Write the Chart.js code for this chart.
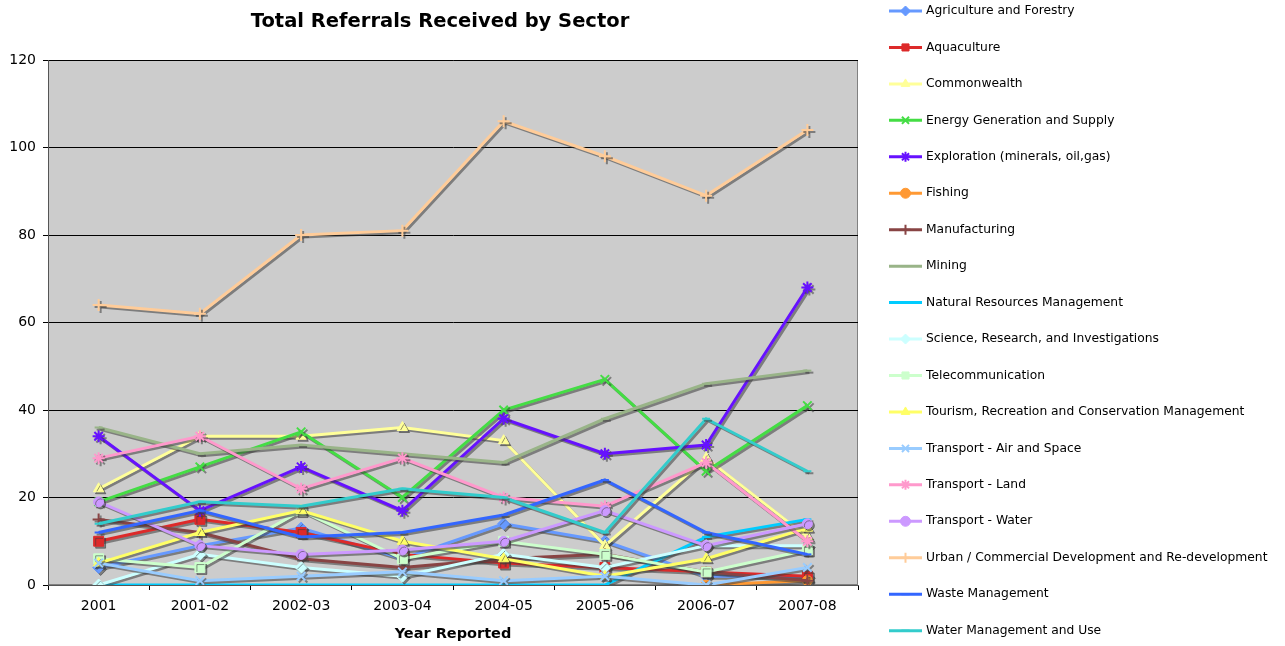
<!DOCTYPE html>
<html>
<head>
<meta charset="utf-8">
<title>Total Referrals Received by Sector</title>
<script src="https://cdn.jsdelivr.net/npm/chart.js@4.4.1/dist/chart.umd.min.js"></script>
<style>
  html, body { margin: 0; padding: 0; background: #fff; }
  #wrap { width: 1285px; height: 646px; }
</style>
</head>
<body>
<div id="wrap"><canvas id="grafik" width="1285" height="646"></canvas></div>
<script>
const years = ["2001", "2001-02", "2002-03", "2003-04", "2004-05", "2005-06", "2006-07", "2007-08"];

const agriculture = [4, 9, 13, 6, 14, 10, 2, 2];
const aquaculture = [10, 15, 12, 7, 5, 4, 3, 2];
const commonwealth = [22, 34, 34, 36, 33, 9, 29, 11];
const energy = [19, 27, 35, 20, 40, 47, 26, 41];
const exploration = [34, 17, 27, 17, 38, 30, 32, 68];
const fishing = [null, null, null, null, null, null, 0, 1];
const manufacturing = [15, 12, 6, 4, 6, 7, 3, 1];
const mining = [36, 30, 32, 30, 28, 38, 46, 49];
const naturalResources = [0, 0, 0, 0, 0, 0, 11, 15];
const science = [0, 7, 4, 2, 7, 4, 9, 9];
const telecom = [6, 4, 17, 6, 10, 7, 3, 8];
const tourism = [5, 12, 17, 10, 6, 2, 6, 13];
const transportAir = [5, 1, 2, 3, 1, 2, 0, 4];
const transportLand = [29, 34, 22, 29, 20, 18, 28, 10];
const transportWater = [19, 9, 7, 8, 10, 17, 9, 14];
const urban = [64, 62, 80, 81, 106, 98, 89, 104];
const waste = [12, 17, 11, 12, 16, 24, 12, 7];
const waterMgmt = [14, 19, 18, 22, 20, 12, 38, 26];

const yTicks = [0, 20, 40, 60, 80, 100, 120];

// [label, values, colour, marker, marker radius]
const series = [
  ["Agriculture and Forestry", agriculture, "#6699ff", "rectRot", 6],
  ["Aquaculture", aquaculture, "#dd2a2a", "rect", 7],
  ["Commonwealth", commonwealth, "#ffff99", "triangle", 6],
  ["Energy Generation and Supply", energy, "#44dd44", "crossRot", 6],
  ["Exploration (minerals, oil,gas)", exploration, "#6611ff", "star", 6],
  ["Fishing", fishing, "#ff9933", "circle", 5],
  ["Manufacturing", manufacturing, "#884444", "cross", 6],
  ["Mining", mining, "#99b488", "line", 4],
  ["Natural Resources Management", naturalResources, "#00ccff", "line", 4],
  ["Science, Research, and Investigations", science, "#ccffff", "rectRot", 6],
  ["Telecommunication", telecom, "#ccffcc", "rect", 7],
  ["Tourism, Recreation and Conservation Management", tourism, "#ffff66", "triangle", 6],
  ["Transport - Air and Space", transportAir, "#99ccff", "crossRot", 6],
  ["Transport - Land", transportLand, "#ff99cc", "star", 6],
  ["Transport - Water", transportWater, "#cc99ff", "circle", 5],
  ["Urban / Commercial Development and Re-development", urban, "#ffcc99", "cross", 6],
  ["Waste Management", waste, "#3366ff", "line", 4],
  ["Water Management and Use", waterMgmt, "#33cccc", "line", 4],
];

const lineMarker = (style) => style === "cross" || style === "crossRot" || style === "star" || style === "line";

const datasets = series.map((s, i) => ({
  label: s[0],
  data: s[1],
  borderColor: s[2],
  backgroundColor: s[2],
  pointStyle: s[3],
  pointRadius: s[4],
  pointBorderColor: s[2],
  pointBackgroundColor: s[2],
  pointBorderWidth: lineMarker(s[3]) ? 2 : 1,
  borderWidth: 3,
  tension: 0,
  fill: false,
  order: series.length - i, // later series sit on top
}));

// grey plot area + drop shadow under the series
const plotBack = {
  id: "plotBack",
  beforeDraw(chart) {
    const { ctx, chartArea: a } = chart;
    ctx.save();
    ctx.fillStyle = "#cccccc";
    ctx.fillRect(a.left, a.top, a.right - a.left, a.bottom - a.top);
    ctx.strokeStyle = "#808080";
    ctx.lineWidth = 1;
    ctx.strokeRect(a.left + 0.5, a.top + 0.5, a.right - a.left - 1, a.bottom - a.top - 1);
    ctx.restore();
  },
  beforeDatasetsDraw(chart) {
    const ctx = chart.ctx;
    ctx.save();
    ctx.shadowColor = "rgba(60,60,60,0.55)";
    ctx.shadowOffsetX = 2;
    ctx.shadowOffsetY = 2;
    ctx.shadowBlur = 0;
  },
  afterDatasetsDraw(chart) {
    chart.ctx.restore();
  },
};

// title and legend with line + marker samples
const sideLegend = {
  id: "sideLegend",
  afterDraw(chart) {
    const { ctx, chartArea: a } = chart;
    ctx.save();
    ctx.fillStyle = "#000";
    ctx.font = "bold 19.5px 'DejaVu Sans'";
    ctx.textAlign = "center";
    ctx.textBaseline = "middle";
    ctx.fillText("Total Referrals Received by Sector", 440, 22);

    const x0 = a.right + 31;
    ctx.textAlign = "left";
    ctx.font = "12.3px 'DejaVu Sans'";
    chart.data.datasets.forEach((ds, i) => {
      const y = 11 + i * 36.45;
      ctx.strokeStyle = ds.borderColor;
      ctx.lineWidth = 3;
      ctx.beginPath();
      ctx.moveTo(x0, y);
      ctx.lineTo(x0 + 33, y);
      ctx.stroke();
      ctx.fillStyle = ds.borderColor;
      ctx.lineWidth = ds.pointBorderWidth;
      Chart.helpers.drawPoint(ctx, {
        pointStyle: ds.pointStyle,
        radius: Math.min(ds.pointRadius, 5),
        rotation: 0,
        borderWidth: ds.pointBorderWidth,
      }, x0 + 16.5, y);
      ctx.fillStyle = "#000";
      ctx.fillText(ds.label, x0 + 37, y);
    });
    ctx.restore();
  },
};

const crt = new Chart(document.getElementById("grafik"), {
  type: "line",
  data: { labels: years, datasets: datasets },
  options: {
    responsive: false,
    animation: false,
    layout: { padding: { left: 0, right: 427, top: 60, bottom: 0 } },
    scales: {
      x: {
        offset: true,
        afterFit(scale) { scale.height = 61; },
        grid: { offset: true, drawOnChartArea: false, drawTicks: true, tickLength: 5, color: "#000" },
        border: { color: "#555", width: 1 },
        ticks: { color: "#000", font: { family: "DejaVu Sans", size: 14 }, padding: 8, maxRotation: 0 },
        title: {
          display: true,
          text: "Year Reported",
          color: "#000",
          font: { family: "DejaVu Sans", size: 14.5, weight: "bold" },
          padding: { top: 0, bottom: 3 },
        },
      },
      y: {
        min: 0,
        max: 120,
        afterFit(scale) { scale.width = 48; },
        afterBuildTicks(scale) { scale.ticks = yTicks.map((v) => ({ value: v })); },
        grid: { color: "#000", lineWidth: 1, tickLength: 5 },
        border: { color: "#555", width: 1 },
        ticks: { color: "#000", font: { family: "DejaVu Sans", size: 14 }, padding: 7 },
      },
    },
    plugins: {
      legend: { display: false },
      title: { display: false },
      tooltip: { enabled: false },
    },
  },
  plugins: [plotBack, sideLegend],
});
</script>
</body>
</html>
